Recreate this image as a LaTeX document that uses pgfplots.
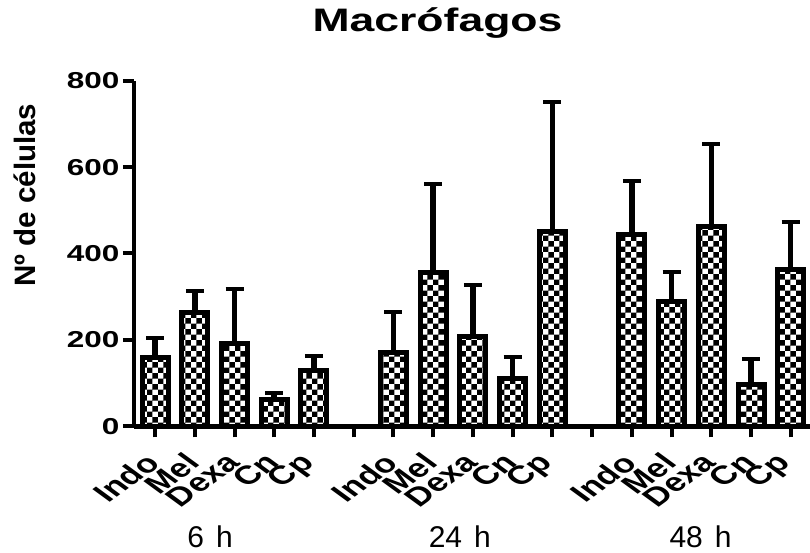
\documentclass[border=0pt]{standalone}
\usepackage{fontspec}
\setmainfont{Liberation Sans}
\usepackage{pgfplots}
\usepackage{pgfplotstable}
\pgfplotsset{compat=1.18}
\usetikzlibrary{patterns}
\newcommand{\cat}[1]{\scalebox{1.37}[1]{\rotatebox{45}{#1}}}
\newcommand{\yt}[1]{\scalebox{1.37}[1]{#1}}

\pgfplotstableread{
x y e
0 159 45
1 264 49
2 191 126
3 63 15
4 130 33
6 170 94
7 356 206
8 207 119
9 111 50
10 450 300
12 443 125
13 288 70
14 463 191
15 96 59
16 363 111
}\datatable

\begin{document}
\begin{tikzpicture}
\useasboundingbox (0,0) rectangle (810pt,553pt);
\begin{axis}[
  at={(134pt,126.7pt)}, anchor=south west,
  scale only axis, width=676.6pt, height=345.6pt,
  xmin=-0.53, xmax=16.5, ymin=0, ymax=800,
  axis x line=bottom, axis y line=left,
  axis line style={line width=4.5pt, -},
  tick align=outside,
  major tick length=11pt,
  every tick/.style={line width=4pt, black},
  ytick={0,200,...,800},
  xtick={0,...,16},
  xticklabels={\cat{Indo},\cat{Mel},\cat{Dexa},\cat{Cn},\cat{Cp},,\cat{Indo},\cat{Mel},\cat{Dexa},\cat{Cn},\cat{Cp},,\cat{Indo},\cat{Mel},\cat{Dexa},\cat{Cn},\cat{Cp}},
  yticklabel={\yt{\pgfmathprintnumber{\tick}}},
  /pgf/number format/assume math mode=true,
  yticklabel style={font=\fontsize{23}{23}\selectfont\bfseries},
  xticklabel style={font=\fontsize{26}{26}\selectfont\bfseries, anchor=north east, inner sep=0pt, xshift=7pt, yshift=-14pt},
  title={\yt{Macrófagos}},
  title style={font=\fontsize{32.5}{33}\selectfont\bfseries, at={(axis description cs:0.4486,1.1236)}, anchor=base},
  ylabel={Nº de células},
  ylabel style={font=\fontsize{29.5}{30}\selectfont\bfseries, at={(axis description cs:-0.161,0.669)}, anchor=center},
  clip=false,
]
\addplot[ybar, bar width=26pt, draw=black, line width=5pt, pattern=checkerboard, pattern color=black,
  error bars/.cd, y dir=plus, y explicit,
  error bar style={line width=5.5pt, black},
  error mark=|,
  error mark options={line width=4pt, mark size=9pt, black}]
  table[x=x, y=y, y error=e] {\datatable};
\node[font=\fontsize{30}{30}\selectfont, anchor=base, yshift=-121.7pt] at (axis cs:1.384,0) {6\hspace{0.4em}h};
\node[font=\fontsize{30}{30}\selectfont, anchor=base, yshift=-121.7pt] at (axis cs:7.67,0) {24\hspace{0.4em}h};
\node[font=\fontsize{30}{30}\selectfont, anchor=base, yshift=-121.7pt] at (axis cs:13.73,0) {48\hspace{0.4em}h};
\end{axis}
\end{tikzpicture}
\end{document}
